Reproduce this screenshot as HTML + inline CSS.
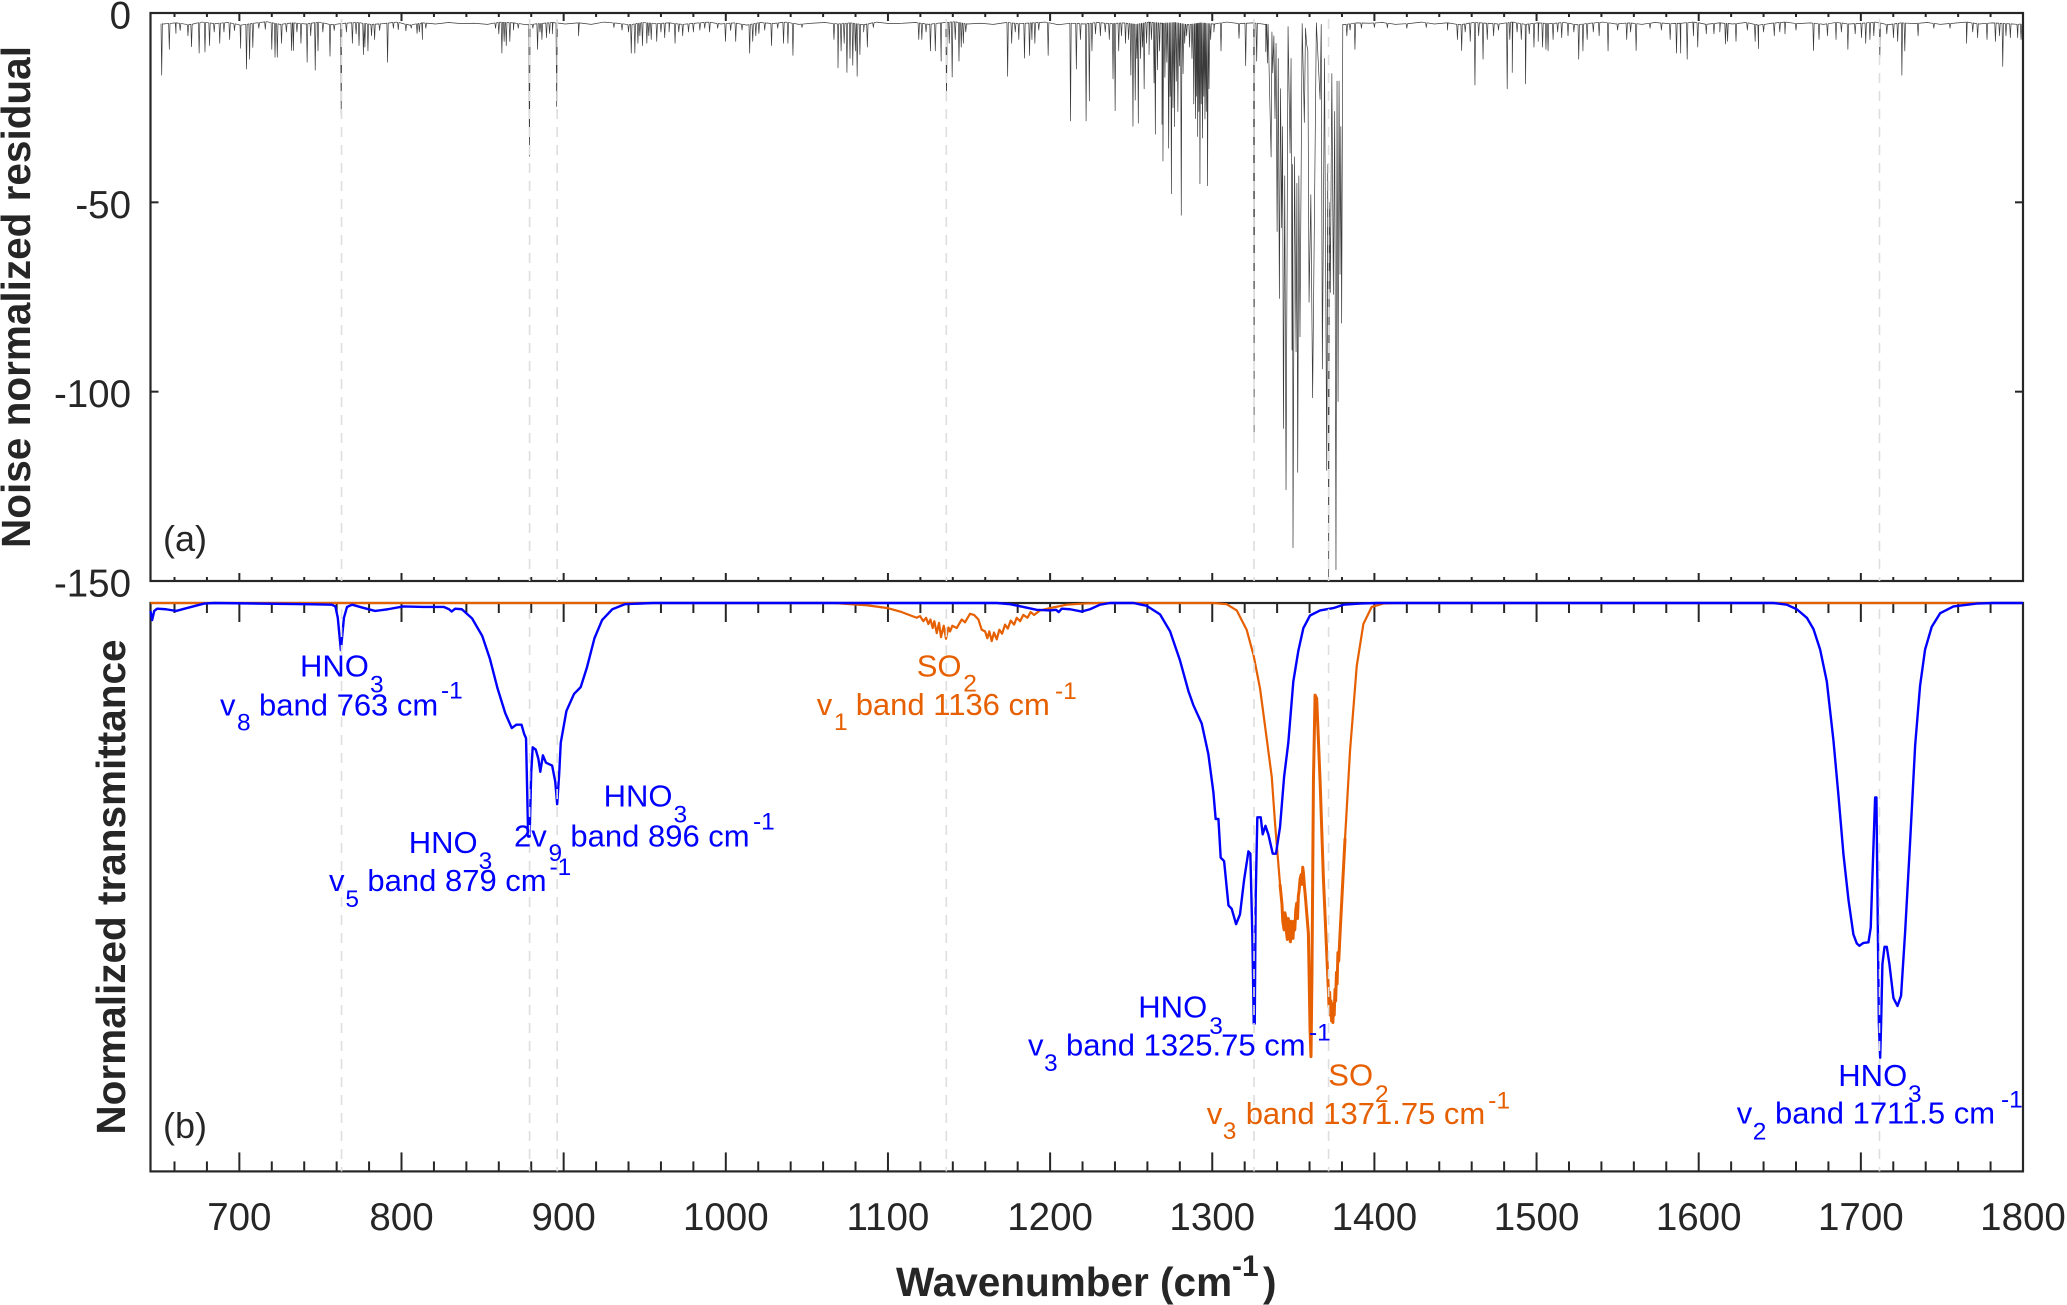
<!DOCTYPE html>
<html lang="en">
<head>
<meta charset="utf-8">
<title>Noise normalized residual and normalized transmittance spectra</title>
<style>
html,body{margin:0;padding:0;background:#fff;}
svg{display:block;font-family:"Liberation Sans",Arial,sans-serif;}
.tick-label{font-size:38.5px;fill:#262626;}
.axis-title{font-size:40.5px;font-weight:bold;fill:#262626;}
.panel-label{font-size:36px;fill:#262626;}
.blue{font-size:31px;fill:#0000ff;}
.orange{font-size:31px;fill:#e65f00;}
.sub{font-size:24.5px;}
</style>
</head>
<body>
<svg id="chart" xmlns="http://www.w3.org/2000/svg" width="2067" height="1305" viewBox="0 0 2067 1305">
  <rect x="0" y="0" width="2067" height="1305" fill="#ffffff"/>
  <g id="layer-residual"></g>
  <g id="layer-transmittance"></g>
  <g id="layer-guides"></g>
  <g id="layer-axes"></g>

  <text class="axis-title" transform="translate(30,297) rotate(-90)" text-anchor="middle">Noise normalized residual</text>
  <text class="axis-title" transform="translate(125,887) rotate(-90)" text-anchor="middle">Normalized transmittance</text>
  <text class="axis-title" y="1296"><tspan x="896">Wavenumber (cm</tspan><tspan x="1232" y="1276" font-size="30">-1</tspan><tspan x="1263" y="1296">)</tspan></text>
  <text class="panel-label" x="163" y="551">(a)</text>
  <text class="panel-label" x="163" y="1138">(b)</text>

  <g>
    <text class="blue"><tspan x="300" y="676.6">HNO</tspan><tspan class="sub" x="370" y="692.6">3</tspan></text>
    <text class="blue"><tspan x="220" y="715.4">v</tspan><tspan class="sub" x="237" y="730.4">8</tspan><tspan x="259" y="715.4">band 763 cm</tspan><tspan class="sub" x="441" y="698.5">-1</tspan></text>
  </g>
  <g>
    <text class="blue"><tspan x="603.6" y="806.6">HNO</tspan><tspan class="sub" x="673.5" y="822.6">3</tspan></text>
    <text class="blue"><tspan x="514" y="846.3">2v</tspan><tspan class="sub" x="548.5" y="861">9</tspan><tspan x="570.4" y="846.3">band 896 cm</tspan><tspan class="sub" x="753" y="829.4">-1</tspan></text>
  </g>
  <g>
    <text class="blue"><tspan x="408.7" y="853">HNO</tspan><tspan class="sub" x="478.6" y="869">3</tspan></text>
    <text class="blue"><tspan x="329" y="891">v</tspan><tspan class="sub" x="345.4" y="907">5</tspan><tspan x="367.4" y="891">band 879 cm</tspan><tspan class="sub" x="549.5" y="875">-1</tspan></text>
  </g>
  <g>
    <text class="orange"><tspan x="916.7" y="676.7">SO</tspan><tspan class="sub" x="963.3" y="691.7">2</tspan></text>
    <text class="orange"><tspan x="816.7" y="715">v</tspan><tspan class="sub" x="834" y="730">1</tspan><tspan x="855.7" y="715">band 1136 cm</tspan><tspan class="sub" x="1055" y="699">-1</tspan></text>
  </g>
  <g>
    <text class="blue"><tspan x="1138.3" y="1017.5">HNO</tspan><tspan class="sub" x="1209.3" y="1034">3</tspan></text>
    <text class="blue"><tspan x="1028" y="1055.7">v</tspan><tspan class="sub" x="1044" y="1071">3</tspan><tspan x="1066" y="1055.7">band 1325.75 cm</tspan><tspan class="sub" x="1309" y="1040.4">-1</tspan></text>
  </g>
  <g>
    <text class="orange"><tspan x="1328.3" y="1085.6">SO</tspan><tspan class="sub" x="1375" y="1102">2</tspan></text>
    <text class="orange"><tspan x="1206.7" y="1123.9">v</tspan><tspan class="sub" x="1222.7" y="1139">3</tspan><tspan x="1245.7" y="1123.9">band 1371.75 cm</tspan><tspan class="sub" x="1488.3" y="1108.6">-1</tspan></text>
  </g>
  <g>
    <text class="blue"><tspan x="1838.3" y="1086">HNO</tspan><tspan class="sub" x="1908" y="1102">3</tspan></text>
    <text class="blue"><tspan x="1736.7" y="1123.5">v</tspan><tspan class="sub" x="1752.7" y="1139.5">2</tspan><tspan x="1775" y="1123.5">band 1711.5 cm</tspan><tspan class="sub" x="2001" y="1107.6">-1</tspan></text>
  </g>
</svg>

<script>
/* ---------- chart data ---------- */
const xMajorTicks = [700,800,900,1000,1100,1200,1300,1400,1500,1600,1700,1800];
const xMinorTicks = [660,680,720,740,760,780,820,840,860,880,920,940,960,980,1020,1040,1060,1080,1120,1140,1160,1180,1220,1240,1260,1280,1320,1340,1360,1380,1420,1440,1460,1480,1520,1540,1560,1580,1620,1640,1660,1680,1720,1740,1760,1780];
const yResidualTicks = [0,-50,-100,-150];
const bandCentres = [763,879,896,1136,1325.75,1371.75,1711.5];

/* residual baseline level, sampled every baselineStep from 645 */
const baselineStep = 8;
const baselineVal = [-2.3,-2.9,-2.6,-3.1,-2.4,-2.8,-2.5,-3.2,-2.7,-2.3,-3.0,-2.6,-2.9,-2.4,-3.1,-2.7,-2.5,-3.0,-2.8,-2.4,-3.2,-2.6,-2.9,-2.5,-2.8,-2.7,-3.0,-2.4,-2.6,-3.1,-2.8,-2.5,-2.9,-2.6,-3.0,-2.4,-2.7,-3.1,-2.5,-2.8,-2.6,-3.0,-2.7,-2.4,-2.9,-2.6,-3.2,-2.5,-2.8,-2.4,-3.0,-2.7,-2.5,-2.9,-2.6,-3.1,-2.4,-2.8,-2.7,-2.5,-3.0,-2.6,-2.3,-2.9,-2.7,-3.0,-2.5,-2.8,-2.6,-2.4,-3.1,-2.7,-2.9,-2.5,-2.8,-2.6,-3.0,-2.4,-2.7,-2.5,-3.1,-2.6,-2.9,-2.4,-2.8,-2.6,-3.0,-2.7,-2.5,-2.9,-2.4,-2.8,-3.1,-2.6,-2.7,-2.5,-3.0,-2.8,-2.4,-2.9,-2.6,-3.1,-2.5,-2.7,-2.9,-2.4,-3.0,-2.6,-2.8,-2.5,-3.1,-2.7,-2.4,-2.9,-2.6,-3.0,-2.5,-2.8,-2.7,-2.4,-3.0,-2.6,-2.9,-2.5,-3.2,-2.7,-2.4,-2.8,-2.6,-3.0,-2.5,-2.9,-2.7,-2.4,-3.1,-2.6,-2.8,-2.5,-3.0,-2.7,-2.4,-2.9,-2.6,-2.8,-3.0,-2.5];

/* residual absorption lines: position and tip value */
const lineWn = [
652.1,656.8,660.9,663.5,668.3,670.5,675.2,678.8,681.6,684.5,
687.9,690.5,694,697,700.8,704.4,706.3,708.3,712,716,
720,722,723.4,726,729,732.2,733.3,735.5,738,741.8,
744,746.8,748.5,751.5,755.9,758.5,762.8,766,769.7,772,
773.8,776.5,777.4,779.3,781.5,783.4,786.5,791.4,795,798,
802.7,806,809.6,811,812.9,815,858,860,861.9,863.3,
864.6,866.8,869,872,878.9,881,883.9,885.4,886.6,889.4,
891.3,893,895.7,909.2,931,936,940,941.7,943.9,945.8,
947,948.6,951.3,952.5,954,957.4,960,962.3,965,968.7,
971,973.4,977,980,984,987,990,995,999.8,1003,
1006.1,1010,1014.7,1016.6,1018.5,1020.4,1024,1028.2,1032,1035.6,
1038.3,1041.4,1047,1066.7,1069.2,1071.1,1073,1074.7,1076.6,1078.3,
1079.9,1081,1082.7,1085,1087.3,1091,1119,1120.9,1123.5,1126.2,
1129.2,1132.8,1136.1,1137.8,1139.6,1141.5,1143.8,1145.2,1146.5,1148,
1173.8,1176.3,1178.5,1180.7,1184.2,1187.3,1188.8,1190.6,1193,1198.8,
1212.6,1216.2,1218.7,1222.2,1224.2,1225.8,1228,1231,1234,1236.5,
1238.8,1240.1,1242.3,1244,1246.5,1248.4,1249.8,1251.1,1252.5,1253.5,
1254.4,1255.8,1257,1258,1259.5,1261,1262.5,1264.1,1264.9,1266.2,
1267.5,1269,1269.6,1270.8,1272,1273.1,1274,1274.8,1275.8,1276.8,
1277.8,1278.8,1279.8,1280.9,1282,1283,1284.2,1286,1287.5,1288.6,
1289.7,1290.4,1291,1291.7,1292.4,1293.2,1294,1294.8,1295.5,1296.3,
1297.1,1298,1299,1301,1305.4,1316.5,1320.6,1325.8,1327.4,1333,1334,
1383,1385,1388,1392,1400,1408,1420,1432,1445,1451.2,1453.8,
1456,1459.1,1462,1464.3,1467,1469.6,1473.5,1476.5,1481.9,1483.5,1485,
1488,1490.6,1493.2,1495.5,1498.4,1501,1503.7,1505.8,1507.1,1510.2,
1513,1515.5,1519.4,1523,1526,1528.6,1531.2,1535,1538.6,1544.1,
1550,1555.6,1558,1561.4,1570,1577,1582.4,1586.3,1588.9,1592.9,
1596.8,1599.4,1604.7,1609.4,1613,1616.5,1617.8,1623,1630,1634.8,
1636.9,1640,1646.6,1650,1653.2,1660,1670.8,1674.2,1679.4,1684.7,
1688,1692,1696.5,1700.4,1703,1705.6,1708,1711.7,1716,1720.1,
1722.7,1725.3,1727.1,1735.3,1745,1755,1765.2,1769,1772,1777.8,
1783,1785.5,1787.5,1789.5,1792.2,1796.7,1798.8
];
const lineDepth = [
-16.4,-9.6,-5.4,-4.6,-6,-8.9,-10.6,-10.3,-8.6,-5,
-8,-5,-7,-4.6,-9.3,-14.8,-12.2,-9.1,-4,-4.3,
-9.6,-11.7,-11.7,-8,-5,-9.9,-9.9,-5,-8,-13,
-6,-15.1,-10,-5,-11.4,-4.6,-27,-5,-8,-5.5,
-8.6,-11,-9,-10,-6,-7,-4.6,-13,-4,-4.4,
-4.7,-4,-5.4,-5,-7,-4,-4,-5.5,-10.6,-7.5,
-8.6,-7.5,-4.5,-4,-37.8,-4,-9.6,-5,-7,-6.5,
-5.4,-5.5,-24.7,-6,-3.8,-4.5,-5,-10.6,-10.6,-8,
-6,-8.6,-8,-6,-7,-7.5,-5,-6.5,-5,-8,
-5,-6,-5,-5,-4.5,-4,-5,-4,-7.5,-4.6,
-7.5,-4.5,-10.6,-7.5,-6,-5.4,-4.5,-8.6,-4,-8,
-8,-11.2,-3.8,-7,-14.5,-10,-8,-15.7,-12,-13.8,
-10,-16.7,-11,-5,-9,-3.8,-7,-7,-5,-10,
-10,-12.7,-23.2,-8,-16.9,-7,-12.7,-9,-8,-5,
-16.7,-8,-5,-7,-11.9,-11.2,-7,-8,-4.5,-11.2,
-28.5,-14.8,-7,-28.5,-23.2,-10,-5.5,-6,-5,-7,
-17.4,-25.8,-10,-6,-8,-7,-16.4,-29.9,-23,-12,
-29.1,-12,-9,-20,-8,-11,-7,-18.5,-32,-15,
-10,-29.4,-39.1,-17,-13,-35.7,-22,-47.7,-25,-30,
-18,-26,-14,-53.4,-16,-8,-6,-9,-12,-24,
-27.9,-22,-32.6,-26,-45.1,-24,-33,-22,-28,-26,
-45.6,-20,-7,-5,-10,-6.7,-13.9,-110.7,-12.7,-10.2,-13.2,
-6,-4.5,-9.6,-4,-3.8,-3.9,-4,-3.8,-4.5,-7,-9.9,
-5,-7.5,-19,-6,-12.2,-7,-6,-4.5,-20,-7,-15.7,
-5,-7,-18.7,-5.5,-9,-7.5,-9,-9.6,-10,-7,
-5,-6.5,-6,-5,-12.2,-10,-7,-5,-6,-10,
-4.5,-7,-5,-9.9,-4,-4.5,-7,-10.6,-10.6,-12.2,
-6,-9,-5.5,-5.5,-5,-8.2,-7.5,-7.5,-4.5,-7.5,
-9.4,-5,-6,-5,-5.5,-4.5,-9.9,-7,-6,-7,
-5,-9.6,-5.5,-6.5,-8,-7,-6,-11.7,-5.5,-6.5,
-7.5,-16.4,-10,-6,-4,-4,-8,-5,-6.5,-7,
-7.5,-6,-14.1,-6,-6.5,-6.5,-7
];

/* strongest residual band, where tips do not return to the baseline */
const bandWn = [1336.3,1337.3,1338.7,1340,1341.4,1342.8,1343.9,1345.5,1348,1349.2,1349.8,1351.7,1352.7,1354.1,1356.8,1358.2,1359.7,1361.9,1366.5,1367.9,1370.6,1371.8,1372.8,1374.7,1376.3,1377.6,1378.8,1379.8];
const bandDepth = [-38,-15.8,-27.9,-57.7,-75.4,-56.7,-109.7,-125.9,-37,-89,-141.2,-89.5,-121.3,-85.5,-28.9,-8.2,-76.4,-101.6,-22.8,-94,-120.8,-149.6,-73.8,-74.3,-147,-102.6,-69,-81.9];
const bandRise = [-5,-6,-8,-12,-20,-30,-43,-3.6,-12,-40,-38,-45,-43,-2.8,-4,-10,-48,-2.6,-3,-12,-40,-50,-16,-26,-18,-18,-30,-3];

/* HNO3 normalized transmittance */
const hno3Wn = [
645.2,646.2,647.5,649.3,654.7,661,668.8,678.3,684.6,741.2,
757,759.2,760.7,762.6,764.5,766.4,769.5,775.8,783.7,791.6,
801,813.6,826.2,829.3,830.9,833.1,837.2,843.5,849.8,854.5,
859.2,864,868,870.9,874,875.6,876.8,878.1,879,880,
880.9,882.8,884.4,885.6,887.2,889.1,892.9,894.8,896,897.3,
898.2,901.7,906.4,910.5,914.3,919,923.7,930,937.9,955.2,
1167,1175.3,1183.5,1191.7,1200,1203.7,1205.3,1207.2,1212.3,1219.5,
1224.6,1230.8,1237,1251.4,1259.6,1267.8,1274,1280.1,1285.3,1288.4,
1293.5,1297.6,1300.7,1302.1,1303.8,1305.2,1307.3,1310,1312,1314.7,
1317.1,1319.6,1322.3,1323.5,1324.7,1325.6,1326.2,1326.8,1327.8,1329.9,
1331.1,1332.8,1334.6,1337.3,1339.3,1341.8,1344.3,1346.9,1350,1353.1,
1356.2,1360.3,1366.5,1374.7,1380.9,1391.1,1401.4,1646.1,1654.3,1660.5,
1666.7,1670.8,1674.9,1679,1683.1,1686.2,1689.3,1692.4,1695.4,1697.5,
1699.1,1701.6,1704.7,1706.1,1707.4,1708.8,1709.6,1710.2,1711.1,1711.9,
1712.5,1713.3,1714.6,1716,1717.6,1720.1,1722.6,1724.8,1727.3,1730.4,
1733.5,1736.5,1739.6,1743.7,1748.9,1757.1,1771.5,1781.8,1800
];
const hno3T = [
.986,.970,.986,.990,.989,.986,.992,.999,1,.998,
.997,.994,.974,.917,.974,.993,.997,.992,.986,.989,
.994,.993,.993,.989,.985,.990,.989,.973,.942,.902,
.850,.806,.780,.786,.786,.770,.762,.589,.589,.702,
.746,.742,.726,.703,.732,.719,.714,.686,.646,.702,
.754,.810,.840,.852,.886,.938,.970,.989,.998,1,
1,.998,.993,.988,.987,.988,.984,.990,.989,.985,
.989,.997,1,1,.995,.980,.950,.899,.845,.820,
.788,.734,.667,.620,.620,.552,.546,.468,.462,.435,
.452,.512,.563,.559,.418,.260,.260,.485,.623,.623,
.593,.608,.593,.559,.559,.606,.694,.754,.862,.916,
.956,.978,.987,.991,.997,.999,1,1,.997,.989,
.974,.954,.918,.862,.758,.661,.557,.477,.417,.401,
.397,.402,.403,.429,.541,.658,.658,.502,.261,.200,
.261,.365,.395,.395,.365,.305,.291,.309,.421,.581,
.750,.854,.918,.958,.982,.994,.999,1,1
];

/* SO2 normalized transmittance */
const so2Wn = [
645.2,1066.3,1076.6,1086.9,1099.9,1107.5,1117.7,1119.8,1121.8,1123.5,
1124.9,1126.2,1127.6,1128.6,1130.1,1131.5,1132.7,1134.4,1135.8,1137.3,
1138.3,1139.7,1142.4,1145.5,1147.5,1150.6,1153.1,1155.8,1157.8,1159.9,
1161.3,1162.5,1164,1165.4,1167.1,1168.7,1170.4,1172.2,1173.9,1175.7,
1177.8,1179.4,1181.5,1183.5,1186,1188,1190.1,1193.8,1200,1210.2,
1220.5,1230.8,1300.7,1308.9,1315.1,1321.2,1325.4,1329.5,1333.6,1336.7,
1338.7,1341.8,1343,1343.5,1344.3,1344.8,1345.3,1345.8,1346.3,1346.9,1347.4,
1347.8,1348.2,1348.7,1349.2,1349.8,1350.4,1350.9,1351.5,1352.1,1352.6,1353.1,1353.5,
1354.2,1354.8,1355.3,1355.8,1356.2,1356.9,1357.6,1359.3,1360.3,1360.9,1361.5,1362.4,
1363.4,1364.4,1366.5,1368.5,1370.6,1371.2,1371.6,1372,1372.4,1372.8,
1373.2,1373.6,1374,1374.4,1374.8,1375.2,1375.7,1376.1,1376.6,1377,
1377.5,1378,1378.8,1381.9,1385,1389.1,1393.2,1398.3,1405.5,1415.8,1800
];
const so2T = [
1,1,.998,.996,.991,.985,.974,.977,.968,.974,
.963,.971,.956,.968,.947,.965,.940,.960,.937,.957,
.950,.960,.956,.971,.966,.981,.979,.971,.953,.950,
.938,.950,.933,.948,.936,.953,.946,.962,.955,.969,
.962,.974,.968,.979,.974,.984,.979,.987,.991,.997,
.999,1,1,.998,.987,.953,.909,.849,.761,.694,
.613,.505,.470,.440,.425,.455,.448,.420,.408,.445,.436,
.415,.404,.440,.438,.410,.440,.425,.460,.472,.445,.485,.492,
.515,.522,.505,.535,.526,.500,.478,.418,.250,.202,.351,.687,
.838,.832,.687,.519,.384,.345,.320,.290,.315,.275,
.300,.265,.290,.262,.295,.275,.320,.300,.350,.330,
.385,.370,.418,.586,.741,.889,.963,.993,.999,1,1
];

/* ---------- axis functions ---------- */
const SVGNS = 'http://www.w3.org/2000/svg';
const plotLeft = 150.5, plotRight = 2023;
const xMin = 645.2, xMax = 1800;
const topY0 = 13, topY1 = 581, topMin = -150;
const lowY0 = 603, lowY1 = 1171.4;
function xScale(w){ return plotLeft + (w - xMin) * (plotRight - plotLeft) / (xMax - xMin); }
function yResidual(v){ return topY0 + (v / topMin) * (topY1 - topY0); }
function yTrans(t){ return lowY1 - t * (lowY1 - lowY0); }
function make(tag, attrs, parent){
  const el = document.createElementNS(SVGNS, tag);
  for (const k in attrs) el.setAttribute(k, attrs[k]);
  parent.appendChild(el);
  return el;
}
function pathFrom(xs, ys, yFn){
  let d = '';
  for (let i = 0; i < xs.length; i++){
    d += (i ? 'L' : 'M') + xScale(xs[i]).toFixed(2) + ' ' + yFn(ys[i]).toFixed(2);
  }
  return d;
}
function baselineAt(w){
  const p = (w - 645) / baselineStep;
  const i = Math.max(0, Math.min(baselineVal.length - 2, Math.floor(p)));
  const f = p - i;
  return baselineVal[i] * (1 - f) + baselineVal[i + 1] * f;
}

/* ---------- residual series ---------- */
const layerResidual = document.getElementById('layer-residual');
const residualPts = [];
const bandStart = bandWn[0] - 0.5, bandEnd = bandWn[bandWn.length - 1] + 0.7;
for (let i = 0; i < baselineVal.length; i++){
  const w = 645 + i * baselineStep;
  if (w >= xMin && w <= xMax && (w < bandStart || w > bandEnd)) residualPts.push([w, baselineVal[i]]);
}
for (let i = 0; i < lineWn.length; i++){
  const b = baselineAt(lineWn[i]);
  residualPts.push([lineWn[i] - 0.42, b]);
  residualPts.push([lineWn[i], lineDepth[i]]);
  residualPts.push([lineWn[i] + 0.42, b]);
}
for (let i = 0; i < bandWn.length; i++){
  const next = i + 1 < bandWn.length ? bandWn[i + 1] : bandWn[i] + 1.4;
  residualPts.push([bandWn[i], bandDepth[i]]);
  residualPts.push([(bandWn[i] + next) / 2, bandRise[i]]);
}
residualPts.sort(function(a, b){ return a[0] - b[0]; });
const residualLine = make('path', {
  d: pathFrom(residualPts.map(function(p){ return p[0]; }), residualPts.map(function(p){ return p[1]; }), yResidual),
  fill: 'none', stroke: '#3a3a3a', 'stroke-width': '0.7', 'stroke-linejoin': 'round'
}, layerResidual);



/* ---------- transmittance series ---------- */
const layerTrans = document.getElementById('layer-transmittance');
const so2Line = make('path', {
  d: pathFrom(so2Wn, so2T, yTrans), fill: 'none', stroke: '#e65f00', 'stroke-width': '2.2', 'stroke-linejoin': 'round'
}, layerTrans);


/* the strong SO2 band reads heavier in the figure */
const so2StrongIdx = so2Wn.map(function(w, i){ return w > 1340 && w < 1382 ? i : -1; }).filter(function(i){ return i >= 0; });
const so2Strong = make('path', {
  d: pathFrom(so2StrongIdx.map(function(i){ return so2Wn[i]; }), so2StrongIdx.map(function(i){ return so2T[i]; }), yTrans),
  fill: 'none', stroke: '#e65f00', 'stroke-width': '3', 'stroke-linejoin': 'round'
}, layerTrans);


const hno3Line = make('path', {
  d: pathFrom(hno3Wn, hno3T, yTrans), fill: 'none', stroke: '#0000ff', 'stroke-width': '2.4', 'stroke-linejoin': 'round'
}, layerTrans);



/* ---------- dashed band centres ---------- */
const layerGuides = document.getElementById('layer-guides');
bandCentres.forEach(function(w){
  const upper = make('line', {
    x1: xScale(w), x2: xScale(w), y1: 19, y2: topY1,
    stroke: '#dedede', 'stroke-width': '1.6', 'stroke-dasharray': '10 8'
  }, layerGuides);
  
  
  const lower = make('line', {
    x1: xScale(w), x2: xScale(w), y1: lowY0 + 6, y2: lowY1,
    stroke: '#dedede', 'stroke-width': '1.6', 'stroke-dasharray': '10 8'
  }, layerGuides);
  
  
});

/* ---------- axes ---------- */
const layerAxes = document.getElementById('layer-axes');
const axisColor = '#262626';
function addTick(x1, y1, x2, y2){
  const t = make('line', { x1: x1, y1: y1, x2: x2, y2: y2, stroke: axisColor, 'stroke-width': '2' }, layerAxes);
  
  
}
function drawXTicks(w, yTop, yBot, len){
  const x = xScale(w);
  addTick(x, yTop, x, yTop + len);
  addTick(x, yBot, x, yBot - len);
}
xMajorTicks.forEach(function(w){
  drawXTicks(w, topY0, topY1, 8);
  drawXTicks(w, lowY0, lowY1, 19);
  const lab = make('text', { x: xScale(w), y: 1230, 'text-anchor': 'middle', 'class': 'tick-label' }, layerAxes);
  lab.textContent = String(w);
  
  
});
xMinorTicks.forEach(function(w){
  drawXTicks(w, topY0, topY1, 4);
  drawXTicks(w, lowY0, lowY1, 10);
});
yResidualTicks.forEach(function(v){
  const y = yResidual(v);
  addTick(plotLeft, y, plotLeft + 8, y);
  addTick(plotRight, y, plotRight - 8, y);
  const lab = make('text', { x: 131, y: y + 15.5, 'text-anchor': 'end', 'class': 'tick-label' }, layerAxes);
  lab.textContent = String(v);
  
  
});
const boxTop = make('rect', {
  x: plotLeft, y: topY0, width: plotRight - plotLeft, height: topY1 - topY0,
  fill: 'none', stroke: axisColor, 'stroke-width': '2.2'
}, layerAxes);


const boxLow = make('rect', {
  x: plotLeft, y: lowY0, width: plotRight - plotLeft, height: lowY1 - lowY0,
  fill: 'none', stroke: axisColor, 'stroke-width': '2.2'
}, layerAxes);



/* keep curves above the frame of the lower plot, as in the figure */
layerAxes.parentNode.insertBefore(layerAxes, layerResidual);
</script>
</body>
</html>
